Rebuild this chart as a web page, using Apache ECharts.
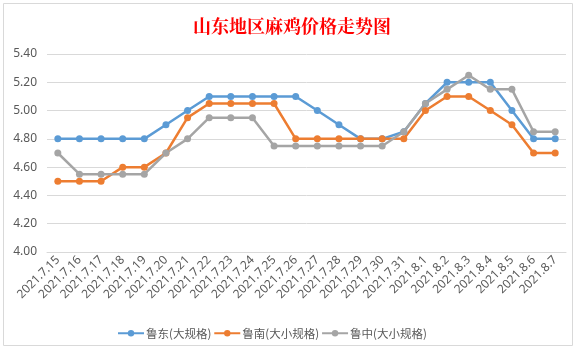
<!DOCTYPE html>
<html><head><meta charset="utf-8">
<script src="https://cdn.jsdelivr.net/npm/echarts@6/dist/echarts.min.js"></script>
<style>html,body{margin:0;padding:0;background:#fff}#c{width:584px;height:352px}</style>
</head><body><div id="c"></div>
<script>
const categories = ['2021.7.15','2021.7.16','2021.7.17','2021.7.18','2021.7.19','2021.7.20','2021.7.21','2021.7.22','2021.7.23','2021.7.24','2021.7.25','2021.7.26','2021.7.27','2021.7.28','2021.7.29','2021.7.30','2021.7.31','2021.8.1','2021.8.2','2021.8.3','2021.8.4','2021.8.5','2021.8.6','2021.8.7'];
const ludong = [4.8,4.8,4.8,4.8,4.8,4.9,5.0,5.1,5.1,5.1,5.1,5.1,5.0,4.9,4.8,4.8,4.85,5.05,5.2,5.2,5.2,5.0,4.8,4.8];
const lunan = [4.5,4.5,4.5,4.6,4.6,4.7,4.95,5.05,5.05,5.05,5.05,4.8,4.8,4.8,4.8,4.8,4.8,5.0,5.1,5.1,5.0,4.9,4.7,4.7];
const luzhong = [4.7,4.55,4.55,4.55,4.55,4.7,4.8,4.95,4.95,4.95,4.75,4.75,4.75,4.75,4.75,4.75,4.85,5.05,5.15,5.25,5.15,5.15,4.85,4.85];
const seriesNames = ['鲁东(大规格)','鲁南(大小规格)','鲁中(大小规格)'];
const colors = ['#5B9BD5','#ED7D31','#A5A5A5'];
const chart = echarts.init(document.getElementById('c'));
const mk = (name, data, color) => ({
  name, type:'line', data, color,
  symbol:'circle', symbolSize:7,
  lineStyle:{width:2.5, color},
  itemStyle:{color},
  emphasis:{disabled:true}
});
chart.setOption({
  animation:false,
  title:{text:'山东地区麻鸡价格走势图', left:'center', top:12,
    textStyle:{color:'#FF0000', fontSize:18, fontWeight:'bold', fontFamily:'Noto Serif CJK SC, Noto Sans CJK SC, serif'}},
  graphic:[{type:'rect', shape:{x:3.5,y:3.5,width:569,height:342}, style:{fill:'none', stroke:'#D9D9D9', lineWidth:1}, silent:true, z:-1}],
  grid:{left:47, right:18, top:54, bottom:100},
  legend:{bottom:8, left:112, itemWidth:26, itemHeight:8, itemGap:2,
    textStyle:{color:'#595959', fontSize:11.5, fontFamily:'Noto Sans CJK SC', padding:[0,0,0,-3]},
    data:seriesNames},
  xAxis:{type:'category', data:categories, boundaryGap:true,
    axisLine:{lineStyle:{color:'#D9D9D9'}}, axisTick:{show:false},
    axisLabel:{rotate:45, interval:0, color:'#595959', fontSize:12, fontFamily:'Noto Sans', margin:6}},
  yAxis:{type:'value', min:4.0, max:5.4, interval:0.2,
    axisLine:{show:false}, axisTick:{show:false},
    splitLine:{lineStyle:{color:'#D9D9D9'}},
    axisLabel:{color:'#595959', fontSize:12, fontFamily:'Noto Sans', formatter:v=>v.toFixed(2), margin:10}},
  series:[mk(seriesNames[0],ludong,colors[0]), mk(seriesNames[1],lunan,colors[1]), mk(seriesNames[2],luzhong,colors[2])]
});
</script></body></html>
